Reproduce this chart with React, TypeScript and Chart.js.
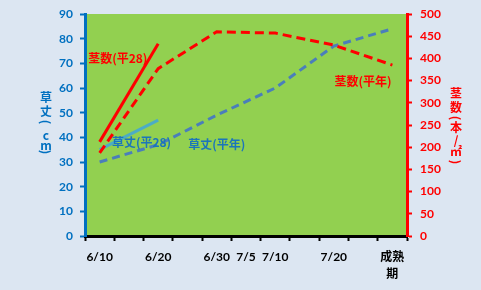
import React, { useEffect, useRef } from 'react';
import { Chart, registerables } from 'chart.js';

Chart.register(...registerables);

const categories = ['6/10', '6/15', '6/20', '6/25', '6/30', '7/5', '7/10', '7/15', '7/20', '7/25', '成熟期'];
const tickLabels: (string | string[])[] = ['6/10', '', '6/20', '', '6/30', '7/5', '7/10', '', '7/20', '', ['成熟', '期']];

// 草丈 (cm) – left axis
const kusatakeHeinen = [30, null, 37, null, 49, null, 60, null, 77, null, 84];
const kusatake28 = [35, null, 47, null, null, null, null, null, null, null, null];
// 茎数 (本/㎡) – right axis
const kukisuHeinen = [187, null, 377, null, 460, null, 457, null, 430, null, 385];
const kukisu28 = [212, null, 433, null, null, null, null, null, null, null, null];

const seriesNames = ['草丈(平年)', '草丈(平28)', '茎数(平年)', '茎数(平28)'];
const leftTitle = ['草', '丈', '(', 'c', 'm', ')'];
const rightTitle = ['茎', '数', '(', '本', '/', '㎡', ')'];

const LEFT_BLUE = '#0070C0';
const RED = '#FF0000';
const LABEL_BLUE = '#1B75BB';
const TICK_FONT = { family: 'Lato, "Noto Sans CJK JP", sans-serif', size: 12, weight: 'bold' as const };
const CJK_FONT = 'bold 12px "Noto Sans CJK JP", sans-serif';

const plotBg = {
  id: 'plotBg',
  beforeDraw(chart: any) {
    const { ctx, chartArea: a } = chart;
    ctx.save();
    ctx.fillStyle = '#92D050';
    ctx.fillRect(a.left, a.top, a.right - a.left, a.bottom - a.top);
    ctx.restore();
  },
};

const annotations = {
  id: 'annotations',
  afterDraw(chart: any) {
    const { ctx, scales } = chart;
    const x = scales.x, yl = scales.y, yr = scales.y1;
    ctx.save();
    ctx.font = CJK_FONT;
    ctx.textAlign = 'center';
    ctx.textBaseline = 'middle';
    // series labels anchored via scales
    const labels = [
      { text: seriesNames[3], color: RED, px: x.getPixelForValue(0.62), py: yr.getPixelForValue(401) },
      { text: seriesNames[1], color: LABEL_BLUE, px: x.getPixelForValue(1.43), py: yl.getPixelForValue(38) },
      { text: seriesNames[0], color: LABEL_BLUE, px: x.getPixelForValue(4.0), py: yl.getPixelForValue(37.2) },
      { text: seriesNames[2], color: RED, px: x.getPixelForValue(9.0), py: yr.getPixelForValue(349) },
    ];
    for (const l of labels) {
      ctx.fillStyle = l.color;
      ctx.fillText(l.text, l.px, l.py);
    }
    // vertical (stacked) axis titles; brackets rotated like vertical text
    const drawVertical = (chars: string[], cx: number, ys: number[], color: string) => {
      ctx.fillStyle = color;
      chars.forEach((c, i) => {
        if (c === '(' || c === ')') {
          ctx.save();
          ctx.translate(cx, ys[i]);
          ctx.rotate(Math.PI / 2);
          ctx.fillText(c, 0, 0);
          ctx.restore();
        } else {
          ctx.fillText(c, cx, ys[i]);
        }
      });
    };
    drawVertical(leftTitle, 46, [97, 111, 122, 135, 145, 152], LEFT_BLUE);
    drawVertical(rightTitle, 456, [93, 107, 118, 127, 140, 151, 162], RED);
    ctx.restore();
  },
};

export default function App() {
  const ref = useRef<HTMLCanvasElement>(null);
  useEffect(() => {
    if (!ref.current) return;
    const chart = new Chart(ref.current, {
      type: 'line',
      data: {
        labels: categories,
        datasets: [
          {
            label: seriesNames[2], data: kukisuHeinen, yAxisID: 'y1', borderColor: RED,
            borderWidth: 3, borderDash: [9, 5], spanGaps: true, pointRadius: 0, tension: 0,
          },
          {
            label: seriesNames[3], data: kukisu28, yAxisID: 'y1', borderColor: RED,
            borderWidth: 3, spanGaps: true, pointRadius: 0, tension: 0,
          },
          {
            label: seriesNames[0], data: kusatakeHeinen, yAxisID: 'y', borderColor: '#4A7EBB',
            borderWidth: 3, borderDash: [8, 5], spanGaps: true, pointRadius: 0, tension: 0,
          },
          {
            label: seriesNames[1], data: kusatake28, yAxisID: 'y', borderColor: '#4BACC6',
            borderWidth: 3, spanGaps: true, pointRadius: 0, tension: 0,
          },
        ],
      },
      options: {
        responsive: false,
        animation: false,
        layout: { padding: { top: 14, left: 0, right: 0, bottom: 0 } },
        plugins: { legend: { display: false }, tooltip: { enabled: false } },
        scales: {
          x: {
            offset: true,
            grid: { offset: true, drawOnChartArea: false, drawTicks: true, tickLength: 5, tickColor: '#000', tickWidth: 2 },
            border: { display: true, color: '#000', width: 3 },
            ticks: {
              autoSkip: false, maxRotation: 0, color: '#000', font: { ...TICK_FONT, lineHeight: 1.4 }, padding: 8,
              callback: (_v: any, i: number) => tickLabels[i],
            },
            afterFit: (s: any) => { s.height = 54; s.paddingLeft = 0; s.paddingRight = 0; },
          },
          y: {
            position: 'left', min: 0, max: 90,
            grid: { drawOnChartArea: false, drawTicks: true, tickLength: 5, tickColor: LEFT_BLUE, tickWidth: 2 },
            border: { display: true, color: LEFT_BLUE, width: 3 },
            ticks: { stepSize: 10, color: LEFT_BLUE, font: TICK_FONT, padding: 7 },
            afterFit: (s: any) => { s.width = 85; s.paddingTop = 0; s.paddingBottom = 0; },
          },
          y1: {
            position: 'right', min: 0, max: 500,
            grid: { drawOnChartArea: false, drawTicks: true, tickLength: 5, tickColor: RED, tickWidth: 2 },
            border: { display: true, color: RED, width: 3 },
            ticks: { stepSize: 50, color: RED, font: TICK_FONT, padding: 8 },
            afterFit: (s: any) => { s.width = 74; s.paddingTop = 0; s.paddingBottom = 0; },
          },
        },
      },
      plugins: [plotBg, annotations],
    });
    return () => chart.destroy();
  }, []);
  return (
    <div style={{ position: 'fixed', left: 0, top: 0, width: 481, height: 290, background: '#DCE6F2' }}>
      <canvas ref={ref} width={481} height={290} style={{ display: 'block' }} />
    </div>
  );
}
